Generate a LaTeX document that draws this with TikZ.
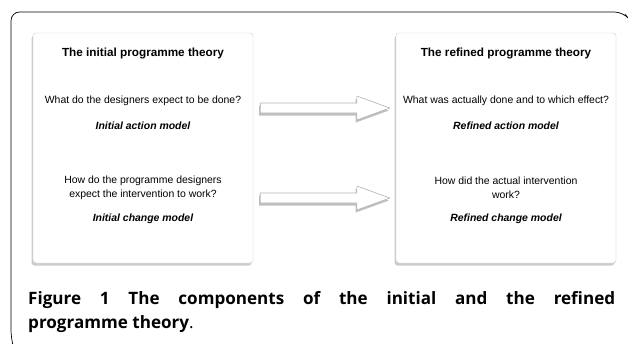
\documentclass[tikz,border=0pt]{standalone}
\usepackage{fontspec}
\setmainfont{Liberation Sans}
\newfontfamily\capfont{Open Sans}
\usepackage{tikz}
\usetikzlibrary{shapes, arrows.meta, positioning, calc, shadows}
\tikzstyle{theorybox} = [rectangle, rounded corners=3pt, minimum width=7.7cm, minimum height=8.05cm, draw=gray!40, fill=white, drop shadow={shadow xshift=-0.05cm, shadow yshift=-0.09cm, opacity=0.4}]
\tikzstyle{boxtitle} = [rectangle, inner sep=0pt, text centered, font=\fontsize{11.7}{14}\selectfont\bfseries]
\tikzstyle{question} = [rectangle, inner sep=0pt, align=center, font=\fontsize{10.4}{14}\selectfont]
\tikzstyle{modelname} = [rectangle, inner sep=0pt, text centered, font=\fontsize{10.4}{12.5}\selectfont\bfseries\itshape]
\tikzstyle{blockarrow} = [draw=gray!60, fill=white, line width=0.6pt, drop shadow={shadow xshift=-0.04cm, shadow yshift=-0.09cm, opacity=0.5}]
\tikzstyle{frameline} = [line width=0.7pt, rounded corners=0.3cm]
\tikzstyle{caption} = [rectangle, inner sep=0pt, text width=20.545cm, align=justify, font=\capfont\fontsize{17}{24}\selectfont]

\begin{document}
\begin{tikzpicture}[node distance=1cm]
\useasboundingbox (0,0) rectangle (21.98,-12.005);
\draw [frameline] (21.875,-0.5) -- (21.805,-0.42) -- (0.385,-0.42) -- (0.385,-11.85) -- (0.43,-12.005);
% the two programme theories
\node (init) [theorybox] at (5.005,-5.18) {};
\node (ref) [theorybox, right of=init, xshift=11.705cm] {};
\node (initTitle) [boxtitle, above of=init, yshift=2.325cm] {The initial programme theory};
\node (initAct) [question, below of=initTitle, yshift=-0.68cm] {What do the designers expect to be done?};
\node (initActM) [modelname, below of=initAct, yshift=0.125cm] {Initial action model};
\node (initChg) [question, below of=initActM, yshift=-1.17cm] {How do the programme designers\\expect the intervention to work?};
\node (initChgM) [modelname, below of=initChg, yshift=-0.085cm] {Initial change model};
\node (refTitle) [boxtitle, above of=ref, yshift=2.325cm] {The refined programme theory};
\node (refAct) [question, below of=refTitle, yshift=-0.68cm] {What was actually done and to which effect?};
\node (refActM) [modelname, below of=refAct, yshift=0.125cm] {Refined action model};
\node (refChg) [question, below of=refActM, yshift=-1.17cm] {How did the actual intervention\\work?};
\node (refChgM) [modelname, below of=refChg, yshift=-0.085cm] {Refined change model};
% block arrows
\coordinate (actFrom) at ($(init.east |- initAct)+(0.245,-0.245)$);
\coordinate (actTo) at ($(ref.west |- initAct)+(-0.21,-0.245)$);
\coordinate (chgFrom) at ($(init.east |- initChg)+(0.245,-0.35)$);
\coordinate (chgTo) at ($(ref.west |- initChg)+(-0.21,-0.35)$);
\draw [blockarrow] let \p1=(actFrom), \p2=(actTo) in (\x1,{\y1+0.175cm}) -- ({\x2-1.155cm},{\y1+0.175cm}) -- ({\x2-1.155cm},{\y1+0.42cm}) -- (\x2,\y1) -- ({\x2-1.155cm},{\y1-0.42cm}) -- ({\x2-1.155cm},{\y1-0.175cm}) -- (\x1,{\y1-0.175cm}) -- cycle;
\draw [blockarrow] let \p1=(chgFrom), \p2=(chgTo) in (\x1,{\y1+0.175cm}) -- ({\x2-1.155cm},{\y1+0.175cm}) -- ({\x2-1.155cm},{\y1+0.42cm}) -- (\x2,\y1) -- ({\x2-1.155cm},{\y1-0.42cm}) -- ({\x2-1.155cm},{\y1-0.175cm}) -- (\x1,{\y1-0.175cm}) -- cycle;
% caption
\node (figCaption) [caption, anchor=base west] at (0.98,-10.64) {\textbf{Figure 1 The components of the initial and the refined\linebreak programme theory}.};
\end{tikzpicture}
\end{document}
